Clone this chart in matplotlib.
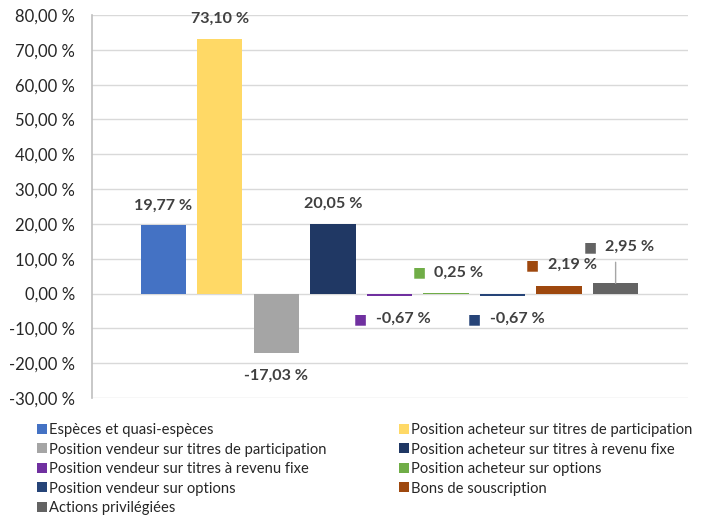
import matplotlib
matplotlib.use('Agg')
import matplotlib.pyplot as plt
from matplotlib.ticker import FuncFormatter
import numpy as np

plt.rcParams['font.family'] = ['Lato', 'DejaVu Sans']

# ── data ────────────────────────────────────────────────────────────────
series = [
    "Espèces et quasi-espèces",
    "Position acheteur sur titres de participation",
    "Position vendeur sur titres de participation",
    "Position acheteur sur titres à revenu fixe",
    "Position vendeur sur titres à revenu fixe",
    "Position acheteur sur options",
    "Position vendeur sur options",
    "Bons de souscription",
    "Actions privilégiées",
]
values = [19.77, 73.10, -17.03, 20.05, -0.67, 0.25, -0.67, 2.19, 2.95]
colors = ['#4472C4', '#FFD966', '#A5A5A5', '#203864', '#7030A0',
          '#70AD47', '#264478', '#9E480E', '#636363']
y_ticks = np.arange(-30, 81, 10)

# label placement (pixels from bar end): dy, and for keyed labels marker dx / text dx
plain_dy = {0: 19, 1: 20, 2: -23, 3: 20}
keyed = {4: (-23, -29.5, -13.5), 5: (20, -26.5, -11.5), 6: (-23, -28.5, -12.5),
         7: (21, -26.5, -11.5), 8: (36, -25.5, -10.5)}

PX = 72 / 100  # points per pixel at dpi 100
TXT = '#404040'


def fmt(v):
    return f"{v:.2f} %".replace('.', ',')


fig = plt.figure(figsize=(7.02, 5.16), dpi=100)
ax = fig.add_axes([92 / 702, 1 - 398 / 516, (688 - 92) / 702, (398 - 15) / 516])

x = np.arange(len(values))
bars = ax.bar(x, values, width=0.8, color=colors, zorder=3)

ax.set_xlim(-1.26, 9.28)
ax.set_ylim(-30, 80)
ax.set_yticks(y_ticks)
ax.yaxis.set_major_formatter(FuncFormatter(lambda v, p: f"{v:.2f} %".replace('.', ',')))
ax.tick_params(axis='y', length=0, labelsize=12, labelcolor='#262626', pad=12)
ax.set_xticks([])
ax.grid(axis='y', color='#D9D9D9', linewidth=1, zorder=0)
for s in ['top', 'right', 'bottom']:
    ax.spines[s].set_visible(False)
ax.spines['left'].set_color('#BFBFBF')
ax.spines['left'].set_linewidth(1.2)

# ── data labels ─────────────────────────────────────────────────────────
for i, v in enumerate(values):
    if i in plain_dy:
        ax.annotate(fmt(v), (x[i], v), xytext=(0, plain_dy[i] * PX),
                    textcoords='offset points', ha='center', va='center',
                    fontsize=11.6, fontweight='bold', color=TXT)
    else:
        dy, mdx, tdx = keyed[i]
        ax.annotate('■', (x[i], v), xytext=(mdx * PX, dy * PX),
                    textcoords='offset points', ha='center', va='center',
                    fontsize=10, color=colors[i], family='DejaVu Sans')
        ax.annotate(fmt(v), (x[i], v), xytext=(tdx * PX, dy * PX),
                    textcoords='offset points', ha='left', va='center',
                    fontsize=11.6, fontweight='bold', color=TXT)

# leader line for the last label
ax.annotate('', (x[8], values[8]), xytext=(0, 21 * PX), textcoords='offset points',
            arrowprops=dict(arrowstyle='-', color='#A6A6A6', lw=1, shrinkA=0, shrinkB=0))

# ── legend (row-major order, two columns) ───────────────────────────────
order = [0, 2, 4, 6, 8, 1, 3, 5, 7]
handles = [bars[i] for i in order]
labels = [series[i] for i in order]
fig.legend(handles, labels, ncol=2, loc='upper left',
           bbox_to_anchor=(37 / 702, 1 - 423 / 516), frameon=False,
           fontsize=10.6, handlelength=0.68, handleheight=0.68, handletextpad=0.16,
           columnspacing=4.9, labelspacing=0.375, borderaxespad=0, borderpad=0,
           labelcolor='#262626')

fig.savefig('out.png', dpi=100)
